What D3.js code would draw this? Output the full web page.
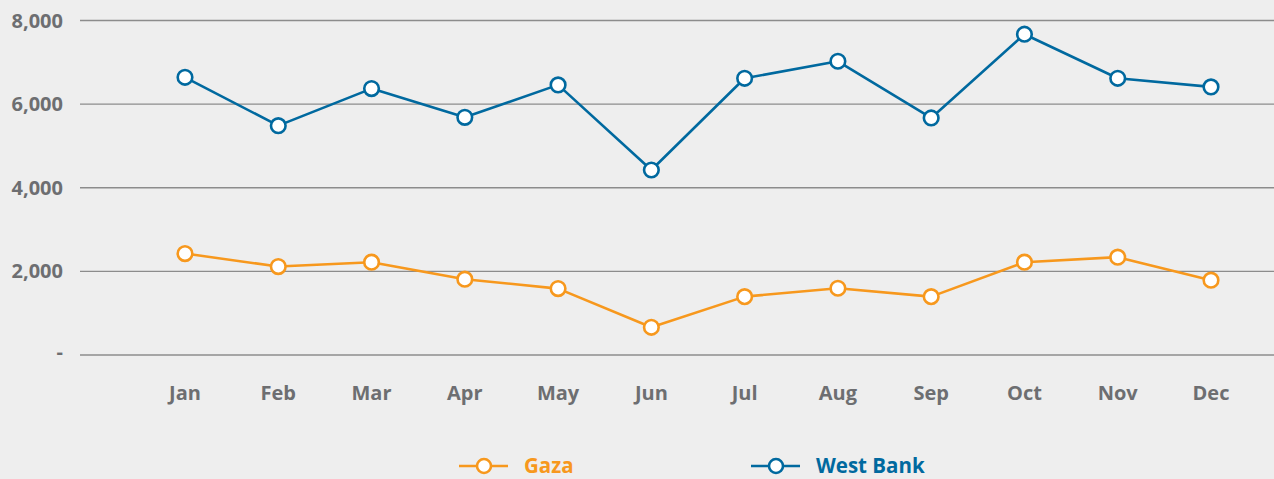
<!DOCTYPE html>
<html>
<head>
<meta charset="utf-8">
<script src="https://cdn.jsdelivr.net/npm/d3@7"></script>
<style>
  html, body { margin: 0; padding: 0; background: #eeeeee; }
  svg { display: block; }
  text { font-family: "Open Sans", sans-serif; font-weight: 700; }
</style>
</head>
<body>
<svg id="chart" width="1274" height="479"></svg>
<script>
const months = ["Jan","Feb","Mar","Apr","May","Jun","Jul","Aug","Sep","Oct","Nov","Dec"];
const gaza = [2426, 2115, 2220, 1813, 1588, 663, 1396, 1597, 1396, 2220, 2340, 1789];
const westBank = [6642, 5485, 6371, 5684, 6460, 4424, 6618, 7025, 5669, 7672, 6618, 6412];
const yTicks = [0, 2000, 4000, 6000, 8000];
const seriesNames = ["Gaza", "West Bank"];
const seriesColors = ["#f7981d", "#00699f"];

const svg = d3.select("#chart");
const W = 1274, H = 479;

svg.append("rect").attr("width", W).attr("height", H).attr("fill", "#eeeeee");

const x = d3.scalePoint().domain(months).range([185, 1211]);
const y = d3.scaleLinear().domain([0, 8000]).range([355, 20.5]);

// gridlines
svg.append("g").selectAll("line").data(yTicks).join("line")
  .attr("x1", 80).attr("x2", W)
  .attr("y1", d => y(d)).attr("y2", d => y(d))
  .attr("stroke", "#8c8c8c").attr("stroke-width", 1.4);

// y labels
const fmt = d3.format(",");
svg.append("g").selectAll("text").data(yTicks).join("text")
  .attr("x", 63).attr("y", d => y(d))
  .attr("dy", d => d === 0 ? "0.2em" : "0.35em")
  .attr("text-anchor", "end")
  .attr("font-size", 20)
  .attr("fill", "#6d6e71")
  .text(d => d === 0 ? "-" : fmt(d));

// x labels
svg.append("g").selectAll("text").data(months).join("text")
  .attr("x", d => x(d)).attr("y", 400)
  .attr("text-anchor", "middle")
  .attr("font-size", 20)
  .attr("fill", "#6d6e71")
  .text(d => d);

const line = d3.line().x((d, i) => x(months[i])).y(d => y(d));

[gaza, westBank].forEach((vals, si) => {
  const g = svg.append("g");
  g.append("path").datum(vals)
    .attr("d", line)
    .attr("fill", "none")
    .attr("stroke", seriesColors[si])
    .attr("stroke-width", 2.6)
    .attr("stroke-linejoin", "round");
  g.selectAll("circle").data(vals).join("circle")
    .attr("cx", (d, i) => x(months[i]))
    .attr("cy", d => y(d))
    .attr("r", 7.3)
    .attr("fill", "#ffffff")
    .attr("stroke", seriesColors[si])
    .attr("stroke-width", 2.6);
});

// legend
const legendX = [459, 751];
const lg = svg.append("g");
seriesNames.forEach((name, i) => {
  const lx = legendX[i];
  lg.append("line")
    .attr("x1", lx).attr("x2", lx + 49)
    .attr("y1", 466).attr("y2", 466)
    .attr("stroke", seriesColors[i]).attr("stroke-width", 2.6);
  lg.append("circle")
    .attr("cx", lx + 25).attr("cy", 466).attr("r", 7)
    .attr("fill", "#ffffff")
    .attr("stroke", seriesColors[i]).attr("stroke-width", 2.6);
  lg.append("text")
    .attr("x", lx + 65).attr("y", 473)
    .attr("font-size", 20.5)
    .attr("fill", seriesColors[i])
    .text(name);
});
</script>
</body>
</html>
